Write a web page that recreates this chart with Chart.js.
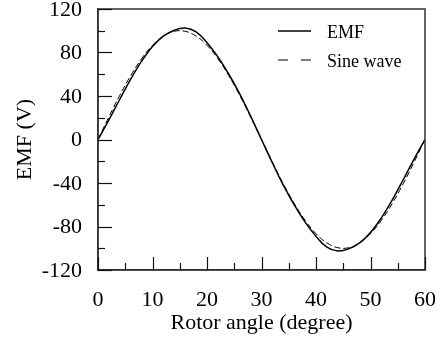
<!DOCTYPE html>
<html><head><meta charset="utf-8">
<script src="https://cdn.jsdelivr.net/npm/chart.js@4"></script>
<style>html,body{margin:0;padding:0;background:#fff}#wrap{width:441px;height:344px}</style>
</head><body><div id="wrap"><canvas id="c" width="441" height="344"></canvas></div>
<script>
const angles   = [0, 2, 4, 6, 8, 10, 12, 14, 16, 18, 20, 22, 24, 26, 28, 30, 32, 34, 36, 38, 40, 42, 44, 46, 48, 50, 52, 54, 56, 58, 60];
const emf      = [0, 18, 37, 55.5, 72, 85.5, 95, 100.5, 102.5, 99, 89, 76, 60, 42, 21.5, 0, -21.5, -42, -60, -76, -89, -99, -102.5, -100.5, -95, -85.5, -72, -55.5, -37, -18, 0];
const sineWave = [0, 20.8, 40.7, 58.8, 74.3, 86.6, 95.1, 99.5, 99.5, 95.1, 86.6, 74.3, 58.8, 40.7, 20.8, 0, -20.8, -40.7, -58.8, -74.3, -86.6, -95.1, -99.5, -99.5, -95.1, -86.6, -74.3, -58.8, -40.7, -20.8, 0];
const xTickValues = [0, 10, 20, 30, 40, 50, 60];
const yTickValues = [-120, -80, -40, 0, 40, 80, 120];
const seriesNames = ['EMF', 'Sine wave'];
const xTitle = 'Rotor angle (degree)';
const yTitle = 'EMF (V)';

const FONT = "'Liberation Serif','Times New Roman',serif";

const frameTicks = {
  id: 'frameTicks',
  afterDatasetsDraw(chart) {
    const { ctx, chartArea: a, scales: { x, y } } = chart;
    ctx.save();
    ctx.strokeStyle = '#333';
    ctx.lineWidth = 1.5;
    ctx.strokeRect(a.left, a.top, a.right - a.left, a.bottom - a.top);
    ctx.strokeStyle = '#111';
    ctx.lineWidth = 1.2;
    x.ticks.forEach(t => {
      const px = Math.round(x.getPixelForValue(t.value)) + 0.5;
      const len = xTickValues.includes(t.value) ? 13 : 7;
      ctx.beginPath(); ctx.moveTo(px, a.bottom); ctx.lineTo(px, a.bottom - len); ctx.stroke();
    });
    y.ticks.forEach(t => {
      const py = Math.round(y.getPixelForValue(t.value)) + 0.5;
      const len = yTickValues.includes(t.value) ? 14 : 7;
      ctx.beginPath(); ctx.moveTo(a.left, py); ctx.lineTo(a.left + len, py); ctx.stroke();
    });
    // legend inside plot
    const ds = chart.data.datasets;
    const rows = [31, 60];
    ctx.font = '18px ' + FONT;
    ctx.fillStyle = '#000';
    ctx.textBaseline = 'middle';
    ds.forEach((d, i) => {
      ctx.strokeStyle = '#000';
      ctx.lineWidth = d.borderWidth;
      ctx.setLineDash(i === 1 ? [10, 13] : []);
      ctx.beginPath(); ctx.moveTo(278, rows[i]); ctx.lineTo(311, rows[i]); ctx.stroke();
      ctx.setLineDash([]);
      ctx.fillText(d.label, 327, rows[i] + 2);
    });
    ctx.restore();
  }
};

new Chart(document.getElementById('c'), {
  type: 'line',
  data: {
    datasets: [
      { label: seriesNames[0], data: angles.map((a, i) => ({ x: a, y: emf[i] })),
        borderColor: '#000', borderWidth: 1.5, pointRadius: 0, tension: 0.4, fill: false },
      { label: seriesNames[1], data: angles.map((a, i) => ({ x: a, y: sineWave[i] })),
        borderColor: '#000', borderWidth: 1, borderDash: [6, 3], pointRadius: 0, tension: 0.4, fill: false }
    ]
  },
  options: {
    responsive: false,
    animation: false,
    devicePixelRatio: 1,
    layout: { padding: { top: 9, right: 16, left: 0, bottom: 0 } },
    plugins: { legend: { display: false }, tooltip: { enabled: false } },
    scales: {
      x: {
        type: 'linear', min: 0, max: 60,
        grid: { display: false, drawTicks: false },
        border: { display: true, color: '#333', width: 1.5 },
        ticks: { stepSize: 5, autoSkip: false, maxRotation: 0, padding: 17, color: '#000',
                 font: { family: FONT, size: 22 },
                 callback: v => xTickValues.includes(v) ? String(v) : '' },
        title: { display: true, text: xTitle, color: '#000', font: { family: FONT, size: 22 },
                 padding: { top: 0, bottom: 8 } },
        afterFit: s => { s.height = 74; s.paddingLeft = 0; s.paddingRight = 0; }
      },
      y: {
        min: -120, max: 120,
        grid: { display: false, drawTicks: false },
        border: { display: true, color: '#333', width: 1.5 },
        ticks: { stepSize: 20, autoSkip: false, padding: 16, color: '#000', labelOffset: 1,
                 font: { family: FONT, size: 22 },
                 callback: v => yTickValues.includes(v) ? String(v) : '' },
        title: { display: true, text: yTitle, color: '#000', font: { family: FONT, size: 22 },
                 padding: { top: 12, bottom: 0 } },
        afterFit: s => { s.width = 98; s.paddingTop = 0; s.paddingBottom = 0; }
      }
    }
  },
  plugins: [frameTicks]
});
</script>
</body></html>
